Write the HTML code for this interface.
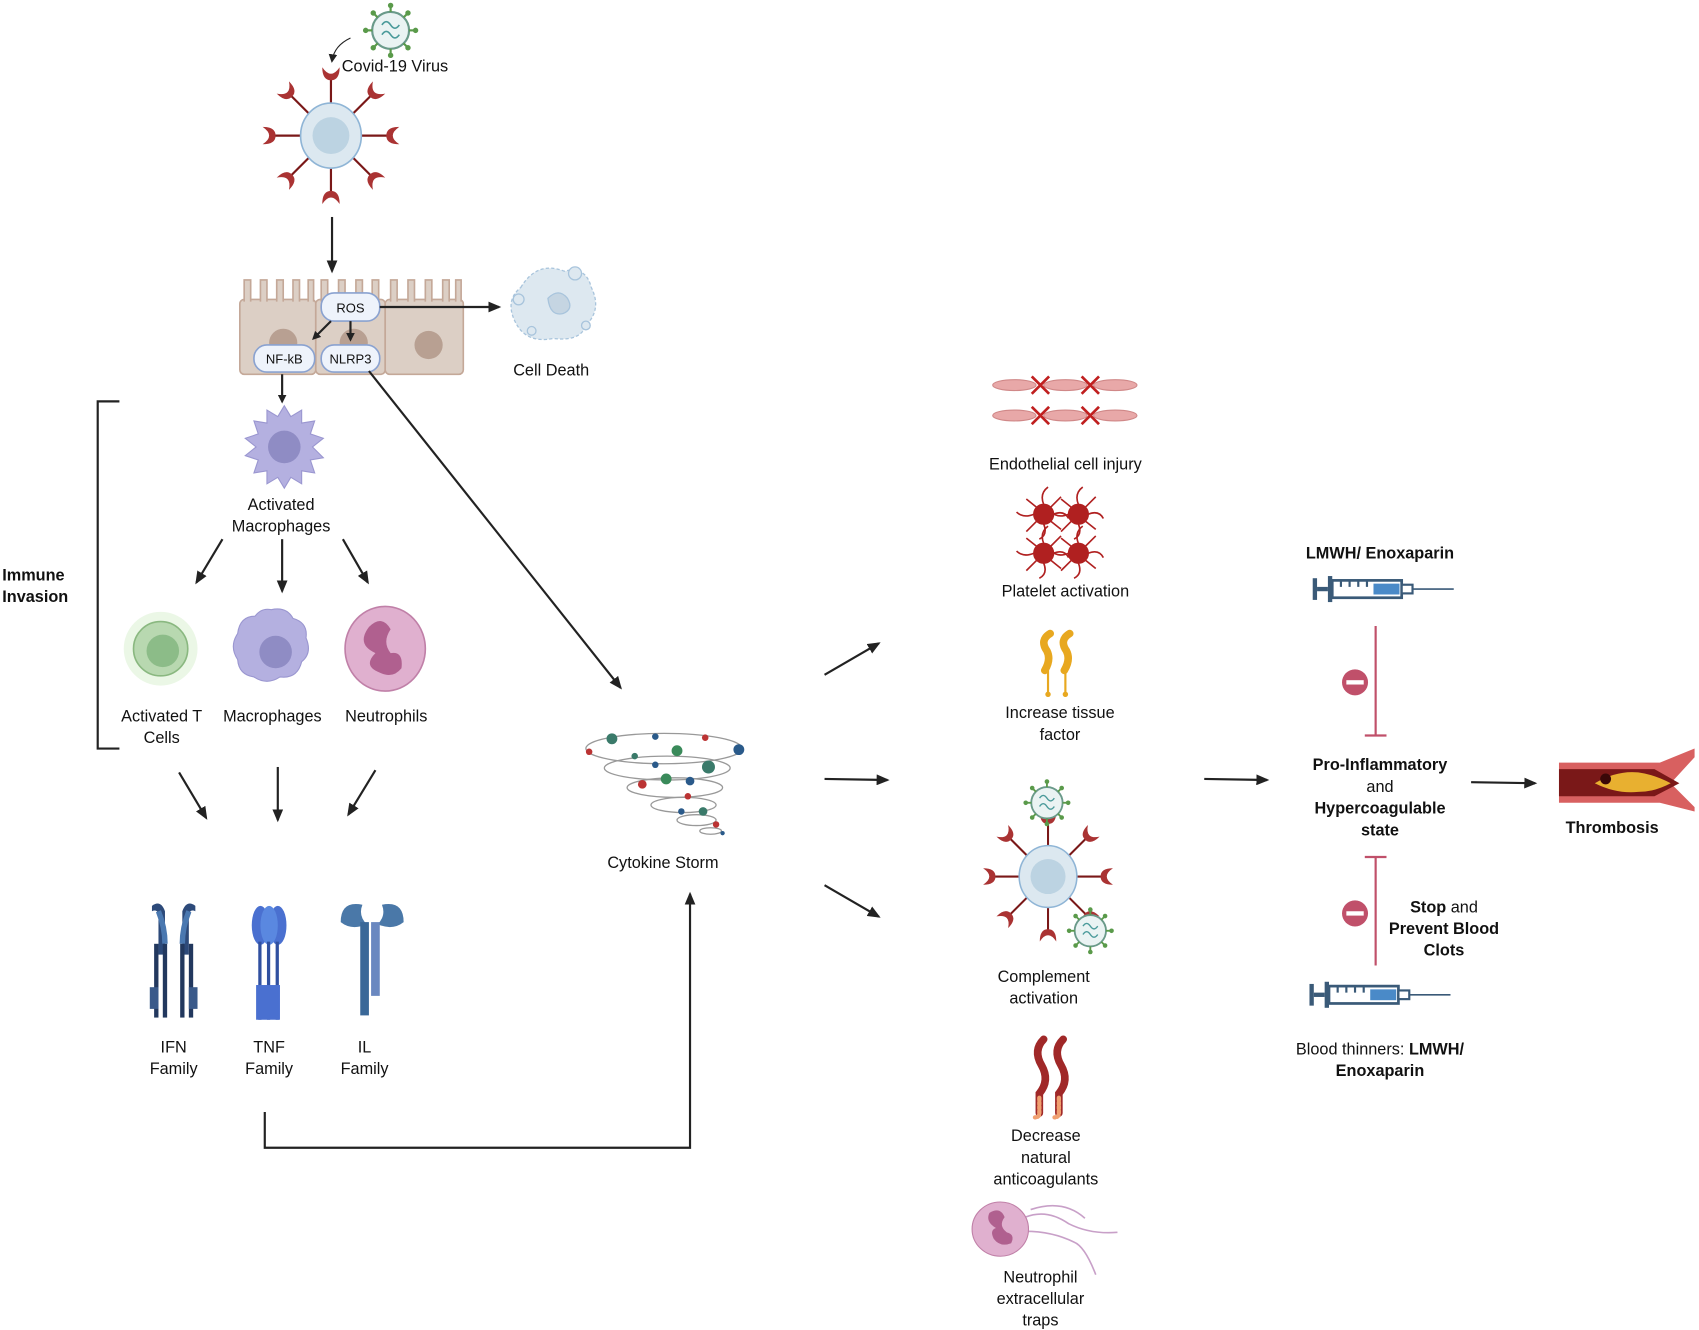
<!DOCTYPE html>
<html><head><meta charset="utf-8"><style>
html,body{margin:0;padding:0;background:#fff;}
svg{display:block}
text{font-family:"Liberation Sans",sans-serif;font-size:15px;fill:#111;}
.b{font-weight:bold}
</style></head><body>
<svg width="1699" height="1330" viewBox="0 0 1566 1226" xmlns="http://www.w3.org/2000/svg">
<defs>
<marker id="ah" markerWidth="8" markerHeight="8" refX="6" refY="4" orient="auto" markerUnits="userSpaceOnUse"><path d="M0,0 L8,4 L0,8 z" fill="#222"/></marker>
<marker id="ah2" markerWidth="12" markerHeight="10" refX="10" refY="5" orient="auto" markerUnits="userSpaceOnUse"><path d="M0,0 L12,5 L0,10 z" fill="#222"/></marker>
<g id="cup"><path d="M-8,-9 Q-8,3 0,3 Q8,3 8,-9 Q4,-3 0,-3 Q-4,-3 -8,-9z" fill="#a33"/></g>
<g id="virus">
<circle r="17" fill="#eaf3f3" stroke="#6a9a8a" stroke-width="2"/>
<g stroke="#5a9a4a" stroke-width="2">
<line x1="0" y1="-17" x2="0" y2="-23"/><line x1="0" y1="17" x2="0" y2="23"/><line x1="-17" y1="0" x2="-23" y2="0"/><line x1="17" y1="0" x2="23" y2="0"/>
<line x1="12" y1="12" x2="16" y2="16"/><line x1="-12" y1="12" x2="-16" y2="16"/><line x1="12" y1="-12" x2="16" y2="-16"/><line x1="-12" y1="-12" x2="-16" y2="-16"/></g>
<g fill="#5a9a4a"><circle cx="0" cy="-23" r="2.5"/><circle cx="0" cy="23" r="2.5"/><circle cx="23" cy="0" r="2.5"/><circle cx="-23" cy="0" r="2.5"/><circle cx="16" cy="16" r="2.5"/><circle cx="-16" cy="16" r="2.5"/><circle cx="16" cy="-16" r="2.5"/><circle cx="-16" cy="-16" r="2.5"/></g>
<path d="M-8,-5 q4,-6 8,0 q4,6 8,0 M-8,4 q4,-6 8,0 q4,6 8,0" stroke="#4a9a9a" fill="none" stroke-width="1.5"/>
</g>
<g id="rcell">
<g stroke="#7a1818" stroke-width="2">
<line x1="0" y1="0" x2="0" y2="-52"/><line x1="0" y1="0" x2="0" y2="52"/><line x1="0" y1="0" x2="-52" y2="0"/><line x1="0" y1="0" x2="52" y2="0"/>
<line x1="0" y1="0" x2="37" y2="37"/><line x1="0" y1="0" x2="-37" y2="37"/><line x1="0" y1="0" x2="37" y2="-37"/><line x1="0" y1="0" x2="-37" y2="-37"/></g>
<use href="#cup" transform="translate(0,-54)"/><use href="#cup" transform="translate(0,54) rotate(180)"/>
<use href="#cup" transform="translate(-54,0) rotate(-90)"/><use href="#cup" transform="translate(54,0) rotate(90)"/>
<use href="#cup" transform="translate(38,-38) rotate(45)"/><use href="#cup" transform="translate(-38,-38) rotate(-45)"/>
<use href="#cup" transform="translate(38,38) rotate(135)"/><use href="#cup" transform="translate(-38,38) rotate(-135)"/>
<ellipse rx="28" ry="30" fill="#dce8f0" stroke="#8fb5d6" stroke-width="1.5"/>
<circle r="17" fill="#bcd3e2"/>
</g>
<g id="syr">
<rect x="0" y="-10" width="4" height="20" fill="#3a5a78"/><rect x="4" y="-2" width="10" height="4" fill="#3a5a78"/>
<rect x="14" y="-12" width="4" height="24" fill="#3a5a78"/>
<rect x="18" y="-8" width="64" height="16" fill="#fff" stroke="#3a5a78" stroke-width="2.5"/>
<rect x="56" y="-5" width="24" height="10" fill="#4a8ac8"/>
<path d="M26,-8v6M34,-8v6M42,-8v6M50,-8v6" stroke="#3a5a78" stroke-width="2"/>
<rect x="82" y="-4" width="10" height="8" fill="#fff" stroke="#3a5a78" stroke-width="2"/>
<line x1="92" y1="0" x2="130" y2="0" stroke="#3a5a78" stroke-width="1.5"/>
</g>
</defs>

<use href="#virus" transform="translate(360,28)"/>
<path d="M323,35 Q308,42 306,56" fill="none" stroke="#222" stroke-width="1" marker-end="url(#ah)"/>
<text x="315" y="66">Covid-19 Virus</text>
<use href="#rcell" transform="translate(305,125)"/>
<line x1="306" y1="200" x2="306" y2="250" stroke="#222" stroke-width="2" marker-end="url(#ah2)"/>

<g fill="#dccfc5" stroke="#c4a898" stroke-width="1.5">
<rect x="221" y="276" width="70" height="69" rx="4"/>
<rect x="291" y="276" width="64" height="69" rx="4"/>
<rect x="355" y="276" width="72" height="69" rx="4"/>
<path d="M225,278v-20h6v20M240,278v-20h6v20M255,278v-20h6v20M270,278v-20h6v20M284,278v-20h5v20M296,278v-20h6v20M312,278v-20h6v20M328,278v-20h6v20M343,278v-20h6v20M360,278v-20h6v20M376,278v-20h6v20M392,278v-20h6v20M408,278v-20h6v20M420,278v-20h5v20"/>
</g>
<g fill="#b8a092"><circle cx="261" cy="316" r="13"/><circle cx="326" cy="316" r="13"/><circle cx="395" cy="318" r="13"/></g>
<g fill="#eef3fb" stroke="#8aa2d0" stroke-width="1.5">
<rect x="296" y="270" width="54" height="26" rx="12"/>
<rect x="234" y="318" width="56" height="25" rx="12"/>
<rect x="296" y="318" width="54" height="25" rx="12"/>
</g>
<text x="323" y="288" text-anchor="middle" style="font-size:12px">ROS</text>
<text x="262" y="335" text-anchor="middle" style="font-size:12px">NF-kB</text>
<text x="323" y="335" text-anchor="middle" style="font-size:12px">NLRP3</text>
<line x1="350" y1="283" x2="460" y2="283" stroke="#222" stroke-width="2" marker-end="url(#ah2)"/>
<line x1="305" y1="296" x2="289" y2="312" stroke="#222" stroke-width="2" marker-end="url(#ah)"/>
<line x1="323" y1="296" x2="323" y2="313" stroke="#222" stroke-width="2" marker-end="url(#ah)"/>
<line x1="260" y1="345" x2="260" y2="370" stroke="#222" stroke-width="2" marker-end="url(#ah)"/>
<g fill="#dde8f0" stroke="#a8c4dc" stroke-width="1.2">
<path d="M480,265 q15,-25 40,-15 q20,-5 25,15 q10,20 -5,35 q-5,15 -30,12 q-25,5 -35,-15 q-10,-20 5,-32z" stroke-dasharray="3 2"/>
<circle cx="478" cy="276" r="5"/><circle cx="530" cy="252" r="6"/><circle cx="540" cy="300" r="4"/><circle cx="490" cy="305" r="4"/>
<path d="M505,275 q10,-10 18,0 q6,10 -4,14 q-12,3 -14,-14z" fill="#c5d5e2"/>
</g>
<text x="508" y="346" text-anchor="middle">Cell Death</text>
<line x1="340" y1="342" x2="572" y2="634" stroke="#222" stroke-width="2" marker-end="url(#ah2)"/>

<path d="M110,370 H90 V690 H110" fill="none" stroke="#222" stroke-width="2"/>
<text x="2" y="535" class="b">Immune</text>
<text x="2" y="555" class="b">Invasion</text>

<g transform="translate(262,412)">
<path d="M0,-38 L6,-28 L16,-34 L16,-22 L28,-24 L24,-12 L36,-8 L26,0 L36,10 L24,12 L28,24 L16,22 L16,34 L6,28 L0,38 L-6,28 L-16,34 L-16,22 L-28,24 L-24,12 L-36,8 L-26,0 L-36,-8 L-24,-12 L-28,-24 L-16,-22 L-16,-34 L-6,-28z" fill="#b4b0e0" stroke="#9a96d0"/>
<circle r="15" fill="#8f8cc4"/>
</g>
<text x="259" y="470" text-anchor="middle">Activated</text>
<text x="259" y="490" text-anchor="middle">Macrophages</text>
<g stroke="#222" stroke-width="2">
<line x1="205" y1="497" x2="181" y2="537" marker-end="url(#ah2)"/>
<line x1="260" y1="497" x2="260" y2="545" marker-end="url(#ah2)"/>
<line x1="316" y1="497" x2="339" y2="537" marker-end="url(#ah2)"/>
</g>
<circle cx="148" cy="598" r="34" fill="#e6f5e0" opacity="0.8"/>
<circle cx="148" cy="598" r="25" fill="#b8d8b0" stroke="#8ab880" stroke-width="1.5"/>
<circle cx="150" cy="600" r="15" fill="#8cbc88"/>
<path d="M250,562 q14,-3 20,8 q14,4 12,18 q6,14 -4,22 q-4,16 -20,14 q-12,8 -24,0 q-14,-2 -15,-16 q-8,-12 0,-24 q2,-16 16,-16 q6,-8 15,-6z" fill="#b4b0e0" stroke="#9a96d0"/>
<circle cx="254" cy="601" r="15" fill="#8f8cc4"/>
<ellipse cx="355" cy="598" rx="37" ry="39" fill="#e0b0cf" stroke="#c080a8" stroke-width="1.5"/>
<path d="M340,578 q12,-12 20,2 q-8,12 0,22 q12,-2 10,14 q-8,10 -20,4 q-16,-6 -4,-18 q-18,-8 -6,-24z" fill="#b0608f"/>
<text x="149" y="665" text-anchor="middle">Activated T</text>
<text x="149" y="685" text-anchor="middle">Cells</text>
<text x="251" y="665" text-anchor="middle">Macrophages</text>
<text x="356" y="665" text-anchor="middle">Neutrophils</text>
<g stroke="#222" stroke-width="2">
<line x1="165" y1="712" x2="190" y2="754" marker-end="url(#ah2)"/>
<line x1="256" y1="707" x2="256" y2="756" marker-end="url(#ah2)"/>
<line x1="346" y1="710" x2="321" y2="751" marker-end="url(#ah2)"/>
</g>
<g>
<path d="M140,835 q8,-6 12,5 v40 h-6 v-38 q-2,-4 -6,-2z M180,835 q-8,-6 -12,5 v40 h6 v-38 q2,-4 6,-2z" fill="#2d4a7a"/>
<path d="M146,840 q6,15 6,30 M174,840 q-6,15 -6,30" stroke="#4a78b0" stroke-width="5" fill="none"/>
<rect x="142" y="870" width="4" height="68" fill="#22385e"/><rect x="150" y="870" width="4" height="68" fill="#22385e"/>
<rect x="166" y="870" width="4" height="68" fill="#22385e"/><rect x="174" y="870" width="4" height="68" fill="#22385e"/>
<rect x="138" y="910" width="8" height="20" fill="#3a5a8a"/><rect x="174" y="910" width="8" height="20" fill="#3a5a8a"/>
</g>
<g>
<ellipse cx="240" cy="853" rx="8" ry="18" fill="#4a70d0"/><ellipse cx="256" cy="853" rx="8" ry="18" fill="#4a70d0"/><ellipse cx="248" cy="853" rx="8" ry="18" fill="#5a88e0"/>
<rect x="238" y="868" width="3" height="72" fill="#3050a0"/><rect x="246" y="868" width="3" height="72" fill="#3050a0"/><rect x="254" y="868" width="3" height="72" fill="#3050a0"/>
<rect x="236" y="908" width="22" height="32" fill="#4a70d0"/>
</g>
<g>
<path d="M314,850 q0,-20 20,-16 q-4,10 4,18 q-14,6 -24,-2z M372,850 q0,-20 -20,-16 q4,10 -4,18 q14,6 24,-2z" fill="#4a78a8"/>
<rect x="332" y="850" width="8" height="86" fill="#3a6898"/><rect x="342" y="850" width="8" height="68" fill="#6a88c0"/>
</g>
<text x="160" y="970" text-anchor="middle">IFN</text><text x="160" y="990" text-anchor="middle">Family</text>
<text x="248" y="970" text-anchor="middle">TNF</text><text x="248" y="990" text-anchor="middle">Family</text>
<text x="336" y="970" text-anchor="middle">IL</text><text x="336" y="990" text-anchor="middle">Family</text>
<path d="M244,1025 V1058 H636 V824" fill="none" stroke="#222" stroke-width="2" marker-end="url(#ah2)"/>

<g fill="none" stroke="#999" stroke-width="1.2">
<ellipse cx="612" cy="690" rx="72" ry="14"/><ellipse cx="615" cy="708" rx="58" ry="11"/>
<ellipse cx="622" cy="726" rx="44" ry="9"/><ellipse cx="630" cy="742" rx="30" ry="7"/>
<ellipse cx="642" cy="756" rx="18" ry="5"/><ellipse cx="655" cy="766" rx="10" ry="3"/>
</g>
<g>
<circle cx="564" cy="681" r="5" fill="#3a7a6a"/><circle cx="604" cy="679" r="3" fill="#2a5a8a"/><circle cx="650" cy="680" r="3" fill="#b33"/><circle cx="681" cy="691" r="5" fill="#2a5a8a"/>
<circle cx="543" cy="693" r="3" fill="#b33"/><circle cx="624" cy="692" r="5" fill="#3a8a5a"/><circle cx="585" cy="697" r="3" fill="#3a7a6a"/>
<circle cx="653" cy="707" r="6" fill="#3a7a6a"/><circle cx="592" cy="723" r="4" fill="#b33"/><circle cx="614" cy="718" r="5" fill="#3a8a5a"/>
<circle cx="636" cy="720" r="4" fill="#2a5a8a"/><circle cx="604" cy="705" r="3" fill="#2a5a8a"/><circle cx="634" cy="734" r="3" fill="#b33"/>
<circle cx="648" cy="748" r="4" fill="#3a7a6a"/><circle cx="628" cy="748" r="3" fill="#2a5a8a"/><circle cx="660" cy="760" r="3" fill="#b33"/>
<circle cx="666" cy="768" r="2" fill="#2a5a8a"/>
</g>
<text x="611" y="800" text-anchor="middle">Cytokine Storm</text>
<g stroke="#222" stroke-width="2">
<line x1="760" y1="622" x2="810" y2="593" marker-end="url(#ah2)"/>
<line x1="760" y1="718" x2="818" y2="719" marker-end="url(#ah2)"/>
<line x1="760" y1="816" x2="810" y2="845" marker-end="url(#ah2)"/>
</g>

<g fill="#e8a8a8" stroke="#d08888">
<ellipse cx="935" cy="355" rx="20" ry="5"/><ellipse cx="982" cy="355" rx="20" ry="5"/><ellipse cx="1028" cy="355" rx="20" ry="5"/>
<ellipse cx="935" cy="383" rx="20" ry="5"/><ellipse cx="982" cy="383" rx="20" ry="5"/><ellipse cx="1028" cy="383" rx="20" ry="5"/>
</g>
<g stroke="#c02020" stroke-width="2.5">
<path d="M951,347l16,16M967,347l-16,16M997,347l16,16M1013,347l-16,16M951,375l16,16M967,375l-16,16M997,375l16,16M1013,375l-16,16"/>
</g>
<text x="982" y="433" text-anchor="middle">Endothelial cell injury</text>
<g stroke="#b02020" stroke-width="1.5" fill="#b02020">
<g transform="translate(962,474)"><circle r="9"/><path d="M0,-9 q-4,-10 4,-16 M9,0 q10,-4 14,4 M-9,0 q-10,4 -16,-2 M0,9 q4,10 -4,14 M6,-6 l10,-10 M-6,6 l-10,10 M-6,-6 l-10,-8 M6,6 l10,8" fill="none"/></g>
<g transform="translate(994,474)"><circle r="9"/><path d="M0,-9 q-4,-10 4,-16 M9,0 q10,-4 14,4 M-9,0 q-10,4 -16,-2 M0,9 q4,10 -4,14 M6,-6 l10,-10 M-6,6 l-10,10 M-6,-6 l-10,-8 M6,6 l10,8" fill="none"/></g>
<g transform="translate(962,510)"><circle r="9"/><path d="M0,-9 q-4,-10 4,-16 M9,0 q10,-4 14,4 M-9,0 q-10,4 -16,-2 M0,9 q4,10 -4,14 M6,-6 l10,-10 M-6,6 l-10,10 M-6,-6 l-10,-8 M6,6 l10,8" fill="none"/></g>
<g transform="translate(994,510)"><circle r="9"/><path d="M0,-9 q-4,-10 4,-16 M9,0 q10,-4 14,4 M-9,0 q-10,4 -16,-2 M0,9 q4,10 -4,14 M6,-6 l10,-10 M-6,6 l-10,10 M-6,-6 l-10,-8 M6,6 l10,8" fill="none"/></g>
</g>
<text x="982" y="550" text-anchor="middle">Platelet activation</text>
<g>
<path d="M968,584 q-10,6 -3,16 q4,8 -2,18" stroke="#e8a820" stroke-width="7" fill="none" stroke-linecap="round"/>
<path d="M986,584 q-10,6 -3,16 q4,8 -2,18" stroke="#e8a820" stroke-width="7" fill="none" stroke-linecap="round"/>
<path d="M966,618 v22 M982,618 v22" stroke="#e8a820" stroke-width="2"/>
<circle cx="966" cy="640" r="2.5" fill="#e8a820"/><circle cx="982" cy="640" r="2.5" fill="#e8a820"/>
</g>
<text x="977" y="662" text-anchor="middle">Increase tissue</text>
<text x="977" y="682" text-anchor="middle">factor</text>
<use href="#rcell" transform="translate(966,808) scale(0.95)"/>
<use href="#virus" transform="translate(965,740) scale(0.85)"/>
<use href="#virus" transform="translate(1005,858) scale(0.85)"/>
<text x="962" y="905" text-anchor="middle">Complement</text>
<text x="962" y="925" text-anchor="middle">activation</text>
<g fill="none" stroke-linecap="round">
<path d="M962,958 q-10,10 -2,24 q8,14 -2,26 v18" stroke="#a02828" stroke-width="7"/>
<path d="M980,958 q-10,10 -2,24 q8,14 -2,26 v18" stroke="#a02828" stroke-width="7"/>
<path d="M958,1012 v14 q0,4 -4,4 M976,1012 v14 q0,4 -4,4" stroke="#f0a070" stroke-width="4" stroke-dasharray="2 2"/>
</g>
<text x="964" y="1052" text-anchor="middle">Decrease</text>
<text x="964" y="1072" text-anchor="middle">natural</text>
<text x="964" y="1092" text-anchor="middle">anticoagulants</text>
<g fill="none" stroke="#c8a0c8" stroke-width="1.5">
<path d="M945,1122 q20,-8 40,6 q20,10 45,8 M945,1135 q25,0 45,10 q10,4 20,30 M950,1115 q30,-10 50,8"/>
</g>
<ellipse cx="922" cy="1133" rx="26" ry="25" fill="#e0b0cf" stroke="#c080a8"/>
<path d="M912,1118 q10,-6 14,4 q-6,8 2,14 q8,2 4,10 q-10,4 -16,-4 q-4,-8 2,-10 q-10,-6 -6,-14z" fill="#b0608f"/>
<text x="959" y="1182" text-anchor="middle">Neutrophil</text>
<text x="959" y="1202" text-anchor="middle">extracellular</text>
<text x="959" y="1222" text-anchor="middle">traps</text>

<line x1="1110" y1="718" x2="1168" y2="719" stroke="#222" stroke-width="2" marker-end="url(#ah2)"/>
<text x="1272" y="515" text-anchor="middle" class="b">LMWH/ Enoxaparin</text>
<use href="#syr" transform="translate(1210,543)"/>
<g stroke="#c0506a" stroke-width="2">
<line x1="1268" y1="577" x2="1268" y2="678"/><line x1="1258" y1="678" x2="1278" y2="678"/>
<line x1="1268" y1="790" x2="1268" y2="890"/><line x1="1258" y1="790" x2="1278" y2="790"/>
</g>
<circle cx="1249" cy="629" r="12" fill="#c0506a"/><rect x="1241" y="627" width="16" height="4" fill="#fff"/>
<circle cx="1249" cy="842" r="12" fill="#c0506a"/><rect x="1241" y="840" width="16" height="4" fill="#fff"/>
<text x="1272" y="710" text-anchor="middle" class="b">Pro-Inflammatory</text>
<text x="1272" y="730" text-anchor="middle">and</text>
<text x="1272" y="750" text-anchor="middle" class="b">Hypercoagulable</text>
<text x="1272" y="770" text-anchor="middle" class="b">state</text>
<line x1="1356" y1="721" x2="1415" y2="722" stroke="#222" stroke-width="2" marker-end="url(#ah2)"/>
<path d="M1437,703 L1530,703 L1562,690 L1562,698 L1540,722 L1562,744 L1562,748 L1530,740 L1437,740z" fill="#d86060"/>
<path d="M1437,709 L1525,709 L1548,722 L1525,734 L1437,734z" fill="#7a1818"/>
<path d="M1470,722 q20,-12 40,-10 q15,2 30,10 q-15,8 -30,8 q-20,2 -40,-8z" fill="#e8b030"/>
<circle cx="1480" cy="718" r="5" fill="#3a0808"/>
<text x="1486" y="768" text-anchor="middle" class="b">Thrombosis</text>
<text x="1331" y="841" text-anchor="middle"><tspan class="b">Stop</tspan> and</text>
<text x="1331" y="861" text-anchor="middle" class="b">Prevent Blood</text>
<text x="1331" y="881" text-anchor="middle" class="b">Clots</text>
<use href="#syr" transform="translate(1207,917)"/>
<text x="1272" y="972" text-anchor="middle">Blood thinners: <tspan class="b">LMWH/</tspan></text>
<text x="1272" y="992" text-anchor="middle" class="b">Enoxaparin</text>
</svg>
</body></html>
